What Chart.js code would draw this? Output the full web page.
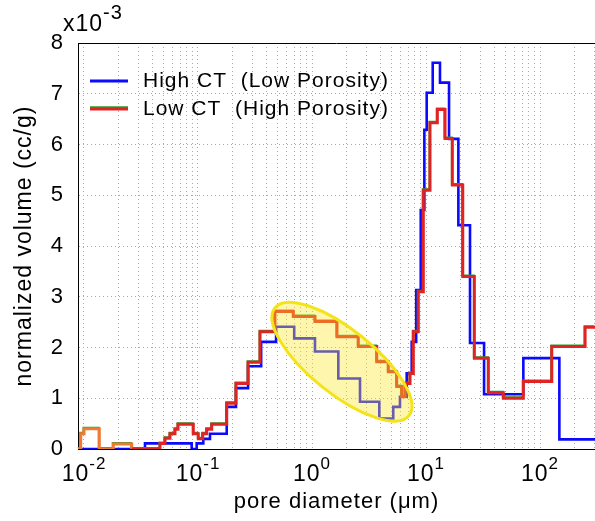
<!DOCTYPE html>
<html>
<head>
<meta charset="utf-8">
<script src="https://cdn.jsdelivr.net/npm/chart.js@4.4.0/dist/chart.umd.min.js"></script>
<style>
html,body{margin:0;padding:0;background:#fff;}
#wrap{width:595px;height:521px;position:relative;}
</style>
</head>
<body>
<div id="wrap"><canvas id="c" width="595" height="521"></canvas></div>
<script>
// ---- data (pore diameter in µm, normalized volume in 1e-3 cc/g) ----
const xMin = 0.00886;
const xMax = 303.6;
const yMin = 0;
const yMax = 8;
const xDecades = [-2, -1, 0, 1, 2];
const yTickStep = 1;
const seriesNames = ['High CT  (Low Porosity)', 'Low CT  (High Porosity)'];
const yExponentLabel = ['x10', '-3'];
const xTitle = 'pore diameter (\u03bcm)';
const yTitle = 'normalized volume (cc/g)';

// bin edges (µm) and the value held over each bin
const highEdges = [0.00886, 0.03428, 0.0880, 0.0974, 0.1113, 0.1274, 0.1786, 0.2154, 0.275, 0.358, 0.484, 0.698, 1.062, 1.702, 2.637, 3.894, 5.16, 5.91, 6.77, 7.49, 8.2, 8.99, 9.67, 10.14, 11.45, 13.26, 15.92, 19.22, 24.32, 32.30, 71.4, 147.8, 303.6];
const highValues = [0, 0.11, 0, 0.11, 0.20, 0.30, 0.83, 1.20, 1.63, 2.11, 2.41, 2.18, 1.92, 1.39, 0.93, 0.60, 0.83, 1.03, 1.49, 2.11, 3.13, 4.71, 6.29, 7.02, 7.61, 7.22, 6.11, 4.41, 2.09, 1.08, 1.79, 0.19];

const lowEdges = [0.00886, 0.00936, 0.0100, 0.01362, 0.01807, 0.02621, 0.04642, 0.05134, 0.05679, 0.06283, 0.06677, 0.09095, 0.1006, 0.1100, 0.1192, 0.1319, 0.1786, 0.2154, 0.275, 0.350, 0.473, 0.686, 1.062, 1.656, 2.547, 3.697, 4.67, 5.53, 6.12, 6.55, 7.24, 7.74, 8.56, 9.47, 10.84, 12.57, 14.68, 17.02, 21.00, 26.55, 35.23, 47.67, 71.4, 126.8, 248.5, 303.6];
const lowValues = [0, 0.30, 0.40, 0, 0.10, 0, 0.11, 0.21, 0.30, 0.39, 0.49, 0.30, 0.20, 0.30, 0.39, 0.49, 0.90, 1.29, 1.71, 2.31, 2.71, 2.61, 2.51, 2.21, 2.02, 1.72, 1.52, 1.23, 1.03, 1.29, 1.49, 2.31, 3.10, 5.10, 6.43, 6.69, 6.12, 5.20, 3.40, 1.79, 1.11, 1.00, 1.33, 2.02, 2.40];

// highlighted region (data coords of centre)
const ellipseCenter = [1.83, 1.72];

// ---- helpers ----
function stepPoints(edges, values) {
  return edges.map((e, i) => ({x: e, y: values[Math.min(i, values.length - 1)]}));
}
const FONT = "'Liberation Sans', Arial, Helvetica, sans-serif";
const BLUE = '#0a0aff';
const RED = '#e02424';
const ORANGE = '#ee7a34';
const GREEN = '#2e9a2e';
const gridColor = '#a8a8a8';
const SPACING = '1px';
const orangeBelow = 0.04; // the Low CT trace looks orange at the small-pore end

const textSpacing = {
  id: 'textSpacing',
  beforeDraw(chart) { chart.ctx.letterSpacing = SPACING; }
};

const greenOffset = {
  id: 'greenOffset',
  beforeDatasetDraw(chart, args) {
    if (args.index === 1) { chart.ctx.save(); chart.ctx.translate(-0.5, -1); }
  },
  afterDatasetDraw(chart, args) {
    if (args.index === 1) { chart.ctx.restore(); }
  }
};

const decorations = {
  id: 'decorations',
  afterDatasetsDraw(chart) {
    const {ctx, scales: {x, y}} = chart;
    const cx = x.getPixelForValue(ellipseCenter[0]);
    const cy = y.getPixelForValue(ellipseCenter[1]);
    ctx.save();
    ctx.beginPath();
    ctx.ellipse(cx, cy, 86, 32, 38.8 * Math.PI / 180, 0, Math.PI * 2);
    ctx.fillStyle = 'rgba(255, 232, 40, 0.38)';
    ctx.fill();
    ctx.lineWidth = 3;
    ctx.strokeStyle = '#f3e41a';
    ctx.stroke();
    ctx.restore();
  },
  afterDraw(chart) {
    const {ctx, chartArea: ca, scales: {x, y}} = chart;
    ctx.save();
    ctx.letterSpacing = SPACING;
    ctx.strokeStyle = '#000';
    ctx.lineWidth = 1;
    ctx.beginPath();
    ctx.moveTo(ca.left, ca.top + 0.5);
    ctx.lineTo(ca.right, ca.top + 0.5);
    ctx.stroke();

    // x tick labels: 10^n
    ctx.fillStyle = '#000';
    ctx.textBaseline = 'alphabetic';
    ctx.textAlign = 'left';
    xDecades.forEach(d => {
      const px = x.getPixelForValue(Math.pow(10, d));
      ctx.font = '23px ' + FONT;
      const wb = ctx.measureText('10').width;
      ctx.font = '17px ' + FONT;
      const we = ctx.measureText(String(d)).width;
      const start = px - (wb + we) / 2;
      ctx.font = '23px ' + FONT;
      ctx.fillText('10', start, 481);
      ctx.font = '17px ' + FONT;
      ctx.fillText(String(d), start + wb, 469);
    });

    // axis multiplier
    ctx.font = '23px ' + FONT;
    ctx.fillText(yExponentLabel[0], 63, 31);
    const w0 = ctx.measureText(yExponentLabel[0]).width;
    ctx.font = '20px ' + FONT;
    ctx.fillText(yExponentLabel[1], 63 + w0, 19);

    // legend
    const lx0 = ca.left + 12, lx1 = ca.left + 50, tx = ca.left + 65;
    const ly1 = ca.top + 38, ly2 = ca.top + 66;
    ctx.lineCap = 'butt';
    ctx.strokeStyle = BLUE; ctx.lineWidth = 3;
    ctx.beginPath(); ctx.moveTo(lx0, ly1); ctx.lineTo(lx1, ly1); ctx.stroke();
    ctx.strokeStyle = GREEN; ctx.lineWidth = 2.5;
    ctx.beginPath(); ctx.moveTo(lx0, ly2 - 1.5); ctx.lineTo(lx1, ly2 - 1.5); ctx.stroke();
    ctx.strokeStyle = RED; ctx.lineWidth = 3;
    ctx.beginPath(); ctx.moveTo(lx0, ly2); ctx.lineTo(lx1, ly2); ctx.stroke();
    ctx.font = '21px ' + FONT;
    ctx.textBaseline = 'middle';
    ctx.fillStyle = '#000';
    ctx.fillText(seriesNames[0], tx, ly1);
    ctx.fillText(seriesNames[1], tx, ly2);
    ctx.restore();
  }
};

function minorTicks() {
  const t = [];
  for (let d = -3; d <= 3; d++) {
    for (let m = 1; m <= 9; m++) {
      const v = m * Math.pow(10, d);
      if (v > xMin && v < xMax) t.push({value: v, major: m === 1});
    }
  }
  return t;
}

new Chart(document.getElementById('c'), {
  type: 'line',
  data: {
    datasets: [
      {
        label: seriesNames[0],
        data: stepPoints(highEdges, highValues),
        borderColor: BLUE,
        borderWidth: 2.6,
        stepped: true,
        pointRadius: 0,
        fill: false,
        order: 3
      },
      {
        label: seriesNames[1] + ' (green)',
        data: stepPoints(lowEdges, lowValues),
        borderColor: GREEN,
        borderWidth: 2,
        stepped: true,
        pointRadius: 0,
        fill: false,
        order: 2
      },
      {
        label: seriesNames[1],
        data: stepPoints(lowEdges, lowValues),
        borderColor: RED,
        segment: {
          borderColor: ctx => (ctx.p1.parsed.x <= orangeBelow ? ORANGE : RED)
        },
        borderWidth: 3,
        stepped: true,
        pointRadius: 0,
        fill: false,
        order: 1
      }
    ]
  },
  options: {
    responsive: false,
    animation: false,
    layout: {padding: {top: 43, right: 0, left: 0, bottom: 0}},
    plugins: {legend: {display: false}, tooltip: {enabled: false}},
    scales: {
      x: {
        type: 'logarithmic',
        min: xMin,
        max: xMax,
        afterBuildTicks(scale) { scale.ticks = minorTicks(); },
        afterFit(scale) { scale.height = 72; },
        ticks: {display: false},
        grid: {color: gridColor, lineWidth: 1, drawTicks: false},
        border: {display: true, color: '#000', width: 1, dash: [1, 3]},
        title: {display: true, text: xTitle, color: '#000', font: {family: FONT, size: 22}, padding: {top: 0, bottom: 6}}
      },
      y: {
        type: 'linear',
        min: yMin,
        max: yMax,
        afterFit(scale) { scale.width = 78; },
        ticks: {stepSize: yTickStep, color: '#000', font: {family: FONT, size: 22}, padding: 14},
        grid: {color: gridColor, lineWidth: 1, drawTicks: false},
        border: {display: true, color: '#000', width: 1, dash: [1, 3]},
        title: {display: true, text: yTitle, color: '#000', font: {family: FONT, size: 23}, padding: {top: 11, bottom: 0}}
      }
    }
  },
  plugins: [textSpacing, greenOffset, decorations]
});
</script>
</body>
</html>
